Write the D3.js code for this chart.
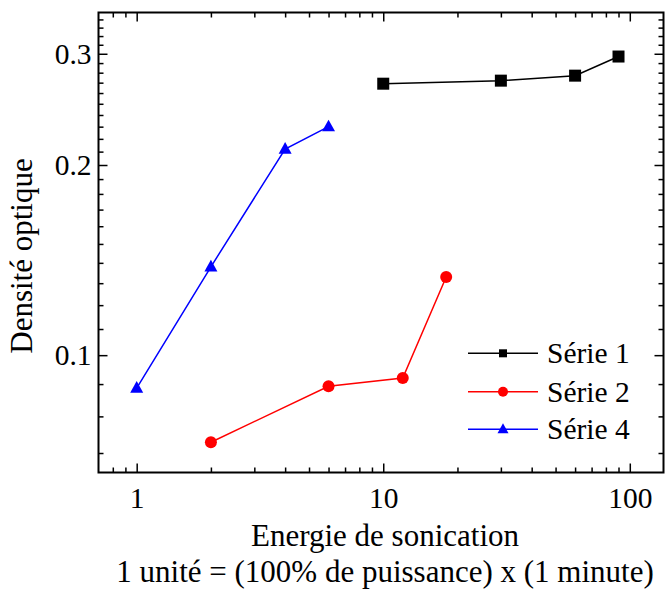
<!DOCTYPE html>
<html>
<head>
<meta charset="utf-8">
<script src="https://cdn.jsdelivr.net/npm/d3@7"></script>
<style>
  html, body { margin: 0; padding: 0; background: #fff; }
  svg { display: block; }
  text { font-family: "Liberation Serif", "Times New Roman", serif; fill: #000; }
</style>
</head>
<body>
<svg id="chart" width="665" height="590"></svg>
<script>
// ---- data ----
const serie1X = [10, 30, 60, 90];
const serie1Y = [0.269, 0.272, 0.277, 0.297];
const serie2X = [2, 6, 12, 18];
const serie2Y = [0.0728, 0.0893, 0.092, 0.133];
const serie4X = [1, 2, 4, 6];
const serie4Y = [0.0887, 0.138, 0.212, 0.230];
const seriesNames = ["Série 1", "Série 2", "Série 4"];
const xMajorTicks = [1, 10, 100];
const xTickLabels = ["1", "10", "100"];
const xMinorTicks = [0.8, 0.9, 2, 3, 4, 5, 6, 7, 8, 9, 20, 30, 40, 50, 60, 70, 80, 90];
const yMajorTicks = [0.1, 0.2, 0.3];
const yTickLabels = ["0.1", "0.2", "0.3"];
const yMinorTicks = [0.07, 0.08, 0.09, 0.11, 0.12, 0.13, 0.14, 0.15, 0.16, 0.17, 0.18, 0.19,
                     0.21, 0.22, 0.23, 0.24, 0.25, 0.26, 0.27, 0.28, 0.29, 0.31, 0.32, 0.33, 0.34];
const xTitle = "Energie de sonication";
const xSubtitle = "1 unité = (100% de puissance) x (1 minute)";
const yTitle = "Densité optique";

// ---- layout ----
const L = 98.5, R = 663.5, T = 12.5, B = 472.5;
const svg = d3.select("#chart");

const x = d3.scaleLog().domain([0.7, 137]).range([L, R]);
const y = d3.scaleLog().domain([0.0652, 0.3487]).range([B, T]);

const tickFont = 29.5;
const serif = '"Liberation Serif", "Times New Roman", serif';

function drawAxis(axisFn, scale, ticks, size, transform, labels) {
  const a = axisFn(scale).tickValues(ticks).tickSize(size).tickPadding(0);
  if (labels) a.tickFormat((d, i) => labels[i]); else a.tickFormat("");
  const g = svg.append("g").attr("transform", transform).call(a);
  g.select(".domain").remove();
  g.selectAll(".tick line").attr("stroke", "#000").attr("stroke-width", 1.5);
  return g;
}

// bottom
const gxb = drawAxis(d3.axisBottom, x, xMajorTicks, -9, `translate(0,${B})`, xTickLabels);
gxb.selectAll(".tick text").attr("font-size", tickFont).attr("y", 35).attr("dy", 0)
  .style("font-family", serif);
drawAxis(d3.axisBottom, x, xMinorTicks, -5, `translate(0,${B})`, null);
// top
drawAxis(d3.axisTop, x, xMajorTicks, -9, `translate(0,${T})`, null);
drawAxis(d3.axisTop, x, xMinorTicks, -5, `translate(0,${T})`, null);
// left
const gyl = drawAxis(d3.axisLeft, y, yMajorTicks, -9, `translate(${L},0)`, yTickLabels);
gyl.selectAll(".tick text").attr("font-size", tickFont).attr("x", -7).attr("dy", "0.33em")
  .style("font-family", serif);
drawAxis(d3.axisLeft, y, yMinorTicks, -5, `translate(${L},0)`, null);
// right
drawAxis(d3.axisRight, y, yMajorTicks, -9, `translate(${R},0)`, null);
drawAxis(d3.axisRight, y, yMinorTicks, -5, `translate(${R},0)`, null);

// frame
svg.append("rect").attr("x", L).attr("y", T).attr("width", R - L).attr("height", B - T)
  .attr("fill", "none").attr("stroke", "#000").attr("stroke-width", 2);

// titles
svg.append("text").attr("x", 385).attr("y", 546).attr("text-anchor", "middle")
  .attr("font-size", 31).text(xTitle);
svg.append("text").attr("x", 385).attr("y", 582).attr("text-anchor", "middle")
  .attr("font-size", 31).text(xSubtitle);
svg.append("text").attr("transform", "translate(32,256) rotate(-90)").attr("text-anchor", "middle")
  .attr("font-size", 31).text(yTitle);

// series
const series = [
  { name: seriesNames[0], xs: serie1X, ys: serie1Y, color: "#000000", shape: "square" },
  { name: seriesNames[1], xs: serie2X, ys: serie2Y, color: "#ff0000", shape: "circle" },
  { name: seriesNames[2], xs: serie4X, ys: serie4Y, color: "#0000ff", shape: "triangle" }
];

const line = d3.line().x(d => x(d[0])).y(d => y(d[1]));

function marker(g, shape, cx, cy, s, color) {
  if (shape === "square") {
    g.append("rect").attr("x", cx - s / 2).attr("y", cy - s / 2).attr("width", s).attr("height", s)
      .attr("fill", color);
  } else if (shape === "circle") {
    g.append("circle").attr("cx", cx).attr("cy", cy).attr("r", s / 2).attr("fill", color);
  } else {
    const h = s * 0.9;
    g.append("path").attr("d", `M${cx},${cy - h * 0.6} L${cx + s / 2},${cy + h * 0.4} L${cx - s / 2},${cy + h * 0.4} Z`)
      .attr("fill", color);
  }
}

series.forEach(s => {
  const pts = s.xs.map((v, i) => [v, s.ys[i]]);
  svg.append("path").datum(pts).attr("d", line).attr("fill", "none")
    .attr("stroke", s.color).attr("stroke-width", 1.5);
  const g = svg.append("g");
  const size = s.shape === "square" ? 12 : (s.shape === "circle" ? 12 : 13);
  pts.forEach(p => marker(g, s.shape, x(p[0]), y(p[1]), size, s.color));
});

// legend
const legRows = [353.3, 391.7, 429.3];
series.forEach((s, i) => {
  const ly = legRows[i];
  svg.append("line").attr("x1", 468).attr("x2", 538).attr("y1", ly).attr("y2", ly)
    .attr("stroke", s.color).attr("stroke-width", 1.5);
  const g = svg.append("g");
  const size = s.shape === "square" ? 8 : (s.shape === "circle" ? 10 : 11);
  marker(g, s.shape, 503, ly, size, s.color);
  svg.append("text").attr("x", 547).attr("y", ly + 10).attr("font-size", 29.5).text(s.name);
});
</script>
</body>
</html>
